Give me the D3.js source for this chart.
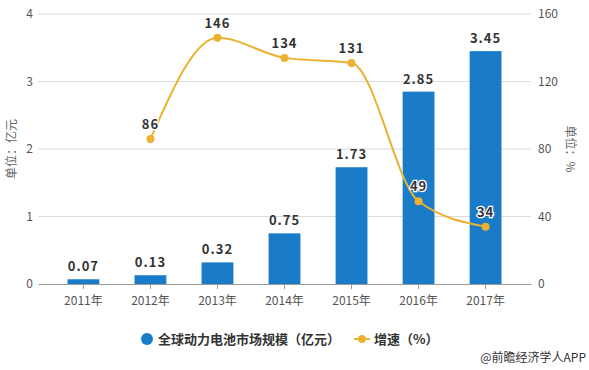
<!DOCTYPE html>
<html>
<head>
<meta charset="utf-8">
<script src="https://cdn.jsdelivr.net/npm/d3@7"></script>
<style>
  body { margin: 0; background: #fff; }
  text { font-family: "Noto Sans CJK SC", "Noto Sans", sans-serif; }
</style>
</head>
<body>
<div id="wrapper"></div>
<script>
const years = ["2011年", "2012年", "2013年", "2014年", "2015年", "2016年", "2017年"];
const marketSize = [0.07, 0.13, 0.32, 0.75, 1.73, 2.85, 3.45]; // 亿元
const growth = [null, 86, 146, 134, 131, 49, 34]; // %
const leftTicks = [0, 1, 2, 3, 4];
const rightTicks = [0, 40, 80, 120, 160];

function buildChart() {
    const dimension = {
        width: 589,
        height: 370,
        margin: { top: 14, left: 38, bottom: 86, right: 58 }
    };
    dimension.boundedWidth = dimension.width - dimension.margin.left - dimension.margin.right;
    dimension.boundedHeight = dimension.height - dimension.margin.top - dimension.margin.bottom;

    const barColor = "#1a7bc9";
    const lineColor = "#ebb130";

    const svg = d3.select("#wrapper").append("svg")
        .attr("width", dimension.width)
        .attr("height", dimension.height);

    const bounded = svg.append("g")
        .attr("transform", `translate(${dimension.margin.left},${dimension.margin.top})`);

    const xScaler = d3.scaleBand()
        .domain(years)
        .range([0, dimension.boundedWidth])
        .paddingInner(0.525)
        .paddingOuter(0.44);

    const yLeft = d3.scaleLinear().domain([0, 4]).range([dimension.boundedHeight, 0]);
    const yRight = d3.scaleLinear().domain([0, 160]).range([dimension.boundedHeight, 0]);

    // gridlines
    bounded.append("g")
        .selectAll("line")
        .data(leftTicks.slice(1))
        .join("line")
        .attr("x1", 0)
        .attr("x2", dimension.boundedWidth)
        .attr("y1", d => yLeft(d))
        .attr("y2", d => yLeft(d))
        .attr("stroke", "#dcdcdc");

    // left axis labels
    bounded.append("g")
        .selectAll("text")
        .data(leftTicks)
        .join("text")
        .attr("x", -5)
        .attr("y", d => yLeft(d))
        .attr("dy", "0.35em")
        .attr("text-anchor", "end")
        .attr("fill", "#555")
        .style("font-size", "12px")
        .text(d => d);

    // right axis labels
    bounded.append("g")
        .selectAll("text")
        .data(rightTicks)
        .join("text")
        .attr("x", dimension.boundedWidth + 7)
        .attr("y", d => yRight(d))
        .attr("dy", "0.35em")
        .attr("text-anchor", "start")
        .attr("fill", "#555")
        .style("font-size", "12px")
        .text(d => d);

    // bars
    bounded.append("g")
        .selectAll("rect")
        .data(marketSize)
        .join("rect")
        .attr("x", (d, i) => xScaler(years[i]))
        .attr("y", d => yLeft(d))
        .attr("width", xScaler.bandwidth())
        .attr("height", d => dimension.boundedHeight - yLeft(d))
        .attr("fill", barColor);

    bounded.append("g")
        .selectAll("text")
        .data(marketSize)
        .join("text")
        .attr("x", (d, i) => xScaler(years[i]) + xScaler.bandwidth() / 2)
        .attr("y", d => yLeft(d) - 8)
        .attr("text-anchor", "middle")
        .attr("fill", "#333")
        .style("font-size", "13px")
        .style("font-weight", "bold")
        .style("letter-spacing", "1px")
        .text(d => d.toFixed(2));

    // x axis
    const xAxis = d3.axisBottom(xScaler).tickSize(5).tickSizeOuter(0);
    const xg = bounded.append("g")
        .attr("transform", `translate(0,${dimension.boundedHeight})`)
        .call(xAxis);
    xg.select(".domain").attr("stroke", "#999");
    xg.selectAll(".tick line").attr("stroke", "#999");
    xg.selectAll(".tick text")
        .attr("fill", "#555")
        .attr("dy", "1.1em")
        .style("font-size", "12px")
        .style("font-family", "\"Noto Sans CJK SC\", sans-serif");

    // growth line
    const lineData = growth.map((v, i) => ({ year: years[i], v })).filter(d => d.v !== null);
    const cx = d => xScaler(d.year) + xScaler.bandwidth() / 2;

    const growthLine = d3.line()
        .x(cx)
        .y(d => yRight(d.v))
        .curve(d3.curveMonotoneX);

    bounded.append("path")
        .attr("d", growthLine(lineData))
        .attr("fill", "none")
        .attr("stroke", lineColor)
        .attr("stroke-width", 2);

    bounded.append("g")
        .selectAll("circle")
        .data(lineData)
        .join("circle")
        .attr("cx", cx)
        .attr("cy", d => yRight(d.v))
        .attr("r", 4)
        .attr("fill", lineColor);

    bounded.append("g")
        .selectAll("text")
        .data(lineData)
        .join("text")
        .attr("x", cx)
        .attr("y", d => yRight(d.v) - 10)
        .attr("text-anchor", "middle")
        .attr("fill", "#333")
        .attr("stroke", "#fff")
        .attr("stroke-width", 2.5)
        .attr("paint-order", "stroke")
        .style("font-size", "13px")
        .style("font-weight", "bold")
        .style("letter-spacing", "1px")
        .text(d => d.v);

    // axis titles
    svg.append("text")
        .attr("transform", `translate(16,${dimension.margin.top + dimension.boundedHeight / 2}) rotate(-90)`)
        .attr("text-anchor", "middle")
        .attr("fill", "#666")
        .style("font-size", "12px")
        .text("单位：亿元");

    svg.append("text")
        .attr("transform", `translate(566,${dimension.margin.top + dimension.boundedHeight / 2}) rotate(90)`)
        .attr("text-anchor", "middle")
        .attr("fill", "#666")
        .style("font-size", "12px")
        .text("单位：%");

    // legend
    const legend = svg.append("g").attr("transform", "translate(0,339)");
    legend.append("circle")
        .attr("cx", 147).attr("cy", 0).attr("r", 6)
        .attr("fill", barColor);
    legend.append("text")
        .attr("x", 158).attr("y", 0).attr("dy", "0.35em")
        .attr("fill", "#333")
        .style("font-size", "13px")
        .style("font-weight", "bold")
        .text("全球动力电池市场规模（亿元）");
    legend.append("line")
        .attr("x1", 354).attr("x2", 370).attr("y1", 0).attr("y2", 0)
        .attr("stroke", lineColor).attr("stroke-width", 2);
    legend.append("circle")
        .attr("cx", 362).attr("cy", 0).attr("r", 4)
        .attr("fill", lineColor);
    legend.append("text")
        .attr("x", 374).attr("y", 0).attr("dy", "0.35em")
        .attr("fill", "#333")
        .style("font-size", "13px")
        .style("font-weight", "bold")
        .text("增速（%）");

    svg.append("text")
        .attr("x", 586).attr("y", 362)
        .attr("text-anchor", "end")
        .attr("fill", "#333")
        .style("font-size", "12px")
        .text("@前瞻经济学人APP");
}

buildChart();
</script>
</body>
</html>
